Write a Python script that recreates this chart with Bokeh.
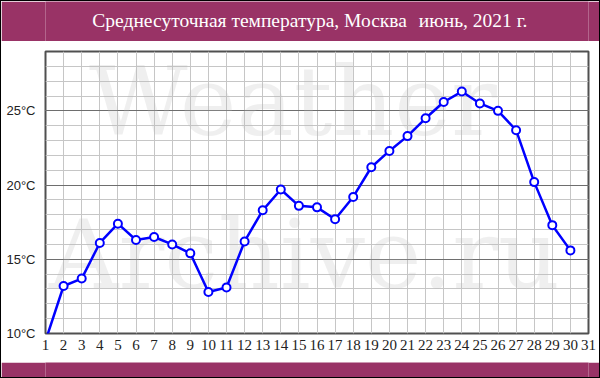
from bokeh.plotting import figure
from bokeh.models import FixedTicker, Label, Range1d
from bokeh.layouts import column
from bokeh.embed import file_html
from bokeh.resources import INLINE

# ---- data ----
days = list(range(1, 31))
temps = [9.5, 13.2, 13.7, 16.1, 17.4, 16.3, 16.5, 16.0, 15.4, 12.8,
         13.1, 16.2, 18.3, 19.7, 18.6, 18.5, 17.7, 19.2, 21.2, 22.3,
         23.3, 24.5, 25.6, 26.3, 25.5, 25.0, 23.7, 20.2, 17.3, 15.6]
x_ticks = list(range(1, 32))
y_major = [10, 15, 20, 25]
y_minor = list(range(10, 30))
y_tick_labels = ["10°C", "15°C", "20°C", "25°C"]
title_left = "Среднесуточная температура, Москва"
title_right = "июнь, 2021 г."
watermark_top = "Weather"
watermark_bottom = "Archive.ru"

PURPLE = "#993366"
BLUE = "#0000ff"


def band(h):
    f = figure(width=598, height=h, output_backend="svg", toolbar_location=None,
               x_range=Range1d(0, 598), y_range=Range1d(0, h),
               min_border=0, min_border_left=0, min_border_right=0,
               min_border_top=0, min_border_bottom=0)
    f.title.visible = False
    f.axis.visible = False
    f.grid.visible = False
    f.background_fill_color = PURPLE
    f.border_fill_color = PURPLE
    f.outline_line_color = None
    return f


header = band(40)
header.add_layout(Label(x=398, y=21, text=title_left, text_align="right",
                        text_baseline="middle", text_font="Liberation Serif",
                        text_font_size="19.5px", text_color="white"))
header.add_layout(Label(x=411, y=21, text=title_right, text_align="left",
                        text_baseline="middle", text_font="Liberation Serif",
                        text_font_size="19.5px", text_color="white"))

p = figure(width=598, height=321, output_backend="svg", toolbar_location=None,
           x_range=Range1d(1, 31), y_range=Range1d(10, 29),
           min_border_left=44, min_border_right=11,
           min_border_top=10, min_border_bottom=29)
p.title.visible = False
p.background_fill_color = "white"
p.border_fill_color = "white"
p.outline_line_color = "#505050"
p.outline_line_width = 2

# grids
p.xgrid.ticker = FixedTicker(ticks=x_ticks)
p.xgrid.grid_line_color = "#c6c6c6"
p.xgrid.grid_line_width = 1
p.ygrid.ticker = FixedTicker(ticks=y_major, minor_ticks=y_minor)
p.ygrid.grid_line_color = "#6e6e6e"
p.ygrid.grid_line_width = 1
p.ygrid.minor_grid_line_color = "#c6c6c6"

# axes
p.xaxis.ticker = FixedTicker(ticks=x_ticks)
p.xaxis.axis_line_color = None
p.xaxis.major_tick_line_color = None
p.xaxis.minor_tick_line_color = None
p.xaxis.major_tick_out = 0
p.xaxis.major_tick_in = 0
p.xaxis.major_label_standoff = 6
p.xaxis.major_label_text_font = "Liberation Serif"
p.xaxis.major_label_text_font_size = "15px"
p.xaxis.major_label_text_color = "#222222"

p.yaxis.ticker = FixedTicker(ticks=y_major)
p.yaxis.major_label_overrides = {v: s for v, s in zip(y_major, y_tick_labels)}
p.yaxis.axis_line_color = None
p.yaxis.major_tick_line_color = None
p.yaxis.minor_tick_line_color = None
p.yaxis.major_tick_out = 0
p.yaxis.major_tick_in = 0
p.yaxis.major_label_standoff = 10
p.yaxis.major_label_text_font = "Liberation Sans"
p.yaxis.major_label_text_font_size = "13px"
p.yaxis.major_label_text_color = "#222222"

# watermark (kept inside the plot frame)
for txt, xx, yy in [(watermark_top, 3.4, 21.8), (watermark_bottom, 1.2, 11.5)]:
    p.add_layout(Label(x=xx, y=yy, text=txt, text_font="DejaVu Serif",
                       text_font_size="96px", text_color="#bdbdbd", text_alpha=0.24,
                       level="underlay"))

# data
p.line(days, temps, line_color=BLUE, line_width=2.5)
p.scatter(days, temps, size=8, fill_color="white", line_color=BLUE, line_width=2)

footer = band(15)

layout = column(header, p, footer, spacing=0,
                styles={"border": "1px solid black"})

open("out.html", "w").write(file_html(layout, INLINE))
